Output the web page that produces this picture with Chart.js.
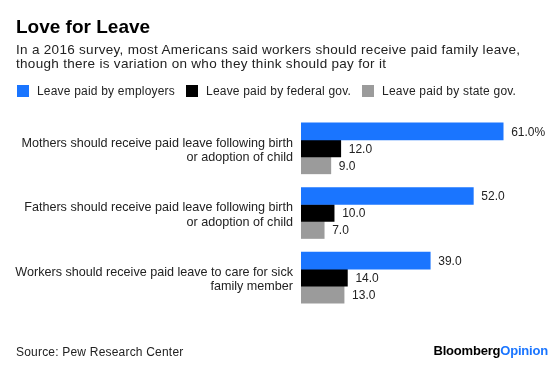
<!DOCTYPE html>
<html>
<head>
<meta charset="utf-8">
<script src="https://cdn.jsdelivr.net/npm/chart.js@4/dist/chart.umd.min.js"></script>
<style>
  html, body { margin: 0; padding: 0; background: #fff; }
  #wrap { position: relative; width: 560px; height: 365px; overflow: hidden; font-family: "Liberation Sans", Arial, sans-serif; color: #1a1a1a; }
  #c { position: absolute; left: 0; top: 0; }
  .title { position: absolute; left: 16px; top: 16px; font-size: 19px; line-height: 22px; font-weight: bold; color: #000; white-space: nowrap; }
  .subtitle { position: absolute; left: 16px; top: 43px; font-size: 13.5px; line-height: 14px; letter-spacing: 0.3px; color: #222; white-space: nowrap; }
  #legend { position: absolute; left: 17px; top: 84px; display: flex; align-items: center; font-size: 12px; line-height: 14px; letter-spacing: 0.2px; color: #222; white-space: nowrap; }
  #legend .item { display: flex; align-items: center; margin-right: 11px; }
  #legend .box { width: 12px; height: 12px; margin-right: 8px; }
  .source { position: absolute; left: 16px; top: 345px; font-size: 12px; line-height: 14px; letter-spacing: 0.2px; color: #222; white-space: nowrap; }
  .logo { position: absolute; right: 12px; top: 343px; font-size: 13px; line-height: 15px; font-weight: bold; letter-spacing: -0.2px; white-space: nowrap; color: #000; }
  .logo span { color: #1a75ff; }
</style>
</head>
<body>
<div id="wrap">
  <canvas id="c" width="560" height="365"></canvas>
  <div class="title">Love for Leave</div>
  <div class="subtitle">In a 2016 survey, most Americans said workers should receive paid family leave,<br>though there is variation on who they think should pay for it</div>
  <div id="legend"></div>
  <div class="source">Source: Pew Research Center</div>
  <div class="logo">Bloomberg<span>Opinion</span></div>
</div>
<script>
const categories = [
  ["Mothers should receive paid leave following birth", "or adoption of child"],
  ["Fathers should receive paid leave following birth", "or adoption of child"],
  ["Workers should receive paid leave to care for sick", "family member"]
];
const seriesNames = ["Leave paid by employers", "Leave paid by federal gov.", "Leave paid by state gov."];
const employers = [61, 52, 39];
const federal = [12, 10, 14];
const state = [9, 7, 13];
const seriesColors = ["#1a75ff", "#000000", "#9b9b9b"];

const valueLabels = {
  id: 'valueLabels',
  afterDatasetsDraw(chart) {
    const ctx = chart.ctx;
    ctx.save();
    ctx.font = '12px "Liberation Sans", Arial, sans-serif';
    ctx.fillStyle = '#222';
    ctx.textBaseline = 'middle';
    ctx.textAlign = 'left';
    chart.data.datasets.forEach((ds, di) => {
      const meta = chart.getDatasetMeta(di);
      meta.data.forEach((el, i) => {
        let txt = ds.data[i].toFixed(1);
        if (di === 0 && i === 0) txt += '%';
        ctx.fillText(txt, el.x + 8, el.y + 1);
      });
    });
    ctx.restore();
  }
};

const chart = new Chart(document.getElementById('c'), {
  type: 'bar',
  data: {
    labels: categories,
    datasets: [
      { label: seriesNames[0], data: employers, backgroundColor: seriesColors[0] },
      { label: seriesNames[1], data: federal, backgroundColor: seriesColors[1] },
      { label: seriesNames[2], data: state, backgroundColor: seriesColors[2] }
    ]
  },
  options: {
    indexAxis: 'y',
    responsive: false,
    animation: false,
    devicePixelRatio: 1,
    barThickness: 17,
    layout: { padding: { left: 0, right: 27, top: 116, bottom: 55 } },
    plugins: {
      legend: { display: false },
      title: { display: false },
      tooltip: { enabled: false }
    },
    scales: {
      x: { display: false, min: 0, max: 70 },
      y: {
        grid: { display: false, drawTicks: false, tickLength: 0 },
        border: { display: false },
        ticks: {
          padding: 8,
          labelOffset: 2,
          color: '#222',
          font: { family: '"Liberation Sans", Arial, sans-serif', size: 12.6, lineHeight: 1.13 }
        },
        afterFit(scale) { scale.width = 301; }
      }
    }
  },
  plugins: [valueLabels]
});

// HTML legend generated from the chart's datasets
const legendEl = document.getElementById('legend');
chart.options.plugins.legend.labels.generateLabels(chart).forEach(item => {
  const div = document.createElement('div');
  div.className = 'item';
  const box = document.createElement('span');
  box.className = 'box';
  box.style.background = item.fillStyle;
  const t = document.createElement('span');
  t.textContent = item.text;
  div.appendChild(box);
  div.appendChild(t);
  legendEl.appendChild(div);
});
</script>
</body>
</html>
